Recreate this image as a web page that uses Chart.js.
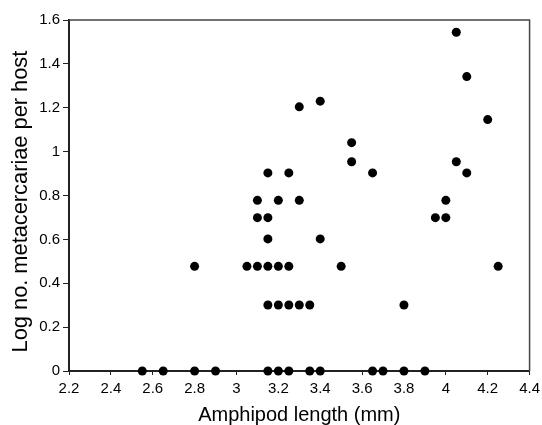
<!DOCTYPE html>
<html>

<head>
    <meta charset="utf-8">
    <script src="https://cdn.jsdelivr.net/npm/chart.js"></script>
    <title>Amphipod length</title>
    <style>
        html, body {
            margin: 0;
            padding: 0;
            background: #fff;
        }

        #wrap {
            width: 542px;
            height: 425px;
        }
    </style>
</head>

<body>
    <div id="wrap">
        <canvas id="chart"></canvas>
    </div>
    <script>
        // amphipod length (mm) and log no. of metacercariae per host
        const lengths = [
            2.55, 2.65, 2.8, 2.9, 3.15, 3.2, 3.25, 3.35, 3.4, 3.65, 3.7, 3.8, 3.9,
            3.15, 3.2, 3.25, 3.3, 3.35, 3.8,
            2.8, 3.05, 3.1, 3.15, 3.2, 3.25, 3.5, 4.25,
            3.15, 3.4,
            3.1, 3.15, 3.95, 4.0,
            3.1, 3.2, 3.3, 4.0,
            3.15, 3.25, 3.65, 4.1,
            3.55, 4.05,
            3.55, 4.2, 3.3, 3.4, 4.1, 4.05
        ]
        const logCounts = [
            0, 0, 0, 0, 0, 0, 0, 0, 0, 0, 0, 0, 0,
            0.301, 0.301, 0.301, 0.301, 0.301, 0.301,
            0.477, 0.477, 0.477, 0.477, 0.477, 0.477, 0.477, 0.477,
            0.602, 0.602,
            0.699, 0.699, 0.699, 0.699,
            0.778, 0.778, 0.778, 0.778,
            0.903, 0.903, 0.903, 0.903,
            0.954, 0.954,
            1.041, 1.146, 1.204, 1.23, 1.342, 1.544
        ]
        const xTicks = [2.2, 2.4, 2.6, 2.8, 3, 3.2, 3.4, 3.6, 3.8, 4, 4.2, 4.4]
        const xTickLabels = ['2.2', '2.4', '2.6', '2.8', '3', '3.2', '3.4', '3.6', '3.8', '4', '4.2', '4.4']
        const yTicks = [0, 0.2, 0.4, 0.6, 0.8, 1, 1.2, 1.4, 1.6]
        const yTickLabels = ['0', '0.2', '0.4', '0.6', '0.8', '1', '1.2', '1.4', '1.6']

        const points = lengths.map(function (x, i) {
            return { x: x, y: logCounts[i] }
        })

        const fontFamily = '"Liberation Sans", Arial, Helvetica, sans-serif'
        const axisColor = '#222'

        // top and right edges of the plot box
        const frame = {
            id: 'frame',
            afterDatasetsDraw: function (chart) {
                const a = chart.chartArea
                const ctx = chart.ctx
                ctx.save()
                ctx.strokeStyle = '#444'
                ctx.lineWidth = 1.5
                ctx.beginPath()
                ctx.moveTo(a.left, a.top)
                ctx.lineTo(a.right, a.top)
                ctx.lineTo(a.right, a.bottom)
                ctx.stroke()
                ctx.restore()
            }
        }

        new Chart(document.getElementById('chart'), {
            type: 'scatter',
            data: {
                datasets: [{
                    data: points,
                    backgroundColor: '#000',
                    borderWidth: 0,
                    pointRadius: 4.5,
                    pointHoverRadius: 4.5,
                    clip: false
                }]
            },
            plugins: [frame],
            options: {
                responsive: true,
                maintainAspectRatio: false,
                animation: false,
                layout: {
                    padding: { top: 20, right: 12, bottom: 0, left: 0 }
                },
                plugins: {
                    legend: { display: false },
                    tooltip: { enabled: false }
                },
                scales: {
                    x: {
                        type: 'linear',
                        min: 2.2,
                        max: 4.4,
                        afterBuildTicks: function (scale) {
                            scale.ticks = xTicks.map(function (v) { return { value: v } })
                        },
                        afterFit: function (scale) {
                            scale.height = 54
                        },
                        ticks: {
                            autoSkip: false,
                            maxRotation: 0,
                            padding: 2,
                            color: '#000',
                            font: { family: fontFamily, size: 15, lineHeight: 1.6 },
                            callback: function (value, index) {
                                return xTickLabels[index]
                            }
                        },
                        grid: {
                            drawOnChartArea: false,
                            drawTicks: true,
                            tickLength: 4,
                            color: axisColor
                        },
                        border: {
                            color: axisColor,
                            width: 2
                        },
                        title: {
                            display: true,
                            text: 'Amphipod length (mm)',
                            color: '#000',
                            font: { family: fontFamily, size: 20, lineHeight: 1 },
                            padding: { top: 0, bottom: 0 }
                        }
                    },
                    y: {
                        type: 'linear',
                        min: 0,
                        max: 1.6,
                        afterBuildTicks: function (scale) {
                            scale.ticks = yTicks.map(function (v) { return { value: v } })
                        },
                        afterFit: function (scale) {
                            scale.width = 69
                        },
                        ticks: {
                            autoSkip: false,
                            padding: 3,
                            color: '#000',
                            font: { family: fontFamily, size: 15 },
                            callback: function (value, index) {
                                return yTickLabels[index]
                            }
                        },
                        grid: {
                            drawOnChartArea: false,
                            drawTicks: true,
                            tickLength: 6,
                            color: axisColor
                        },
                        border: {
                            color: axisColor,
                            width: 2
                        },
                        title: {
                            display: true,
                            // trailing spaces nudge the title a little lower, as in the original
                            text: 'Log no. metacercariae per host  ',
                            color: '#000',
                            font: { family: fontFamily, size: 21.8, lineHeight: 1.2 },
                            padding: { top: 8, bottom: 0 }
                        }
                    }
                }
            }
        })
    </script>
</body>

</html>
